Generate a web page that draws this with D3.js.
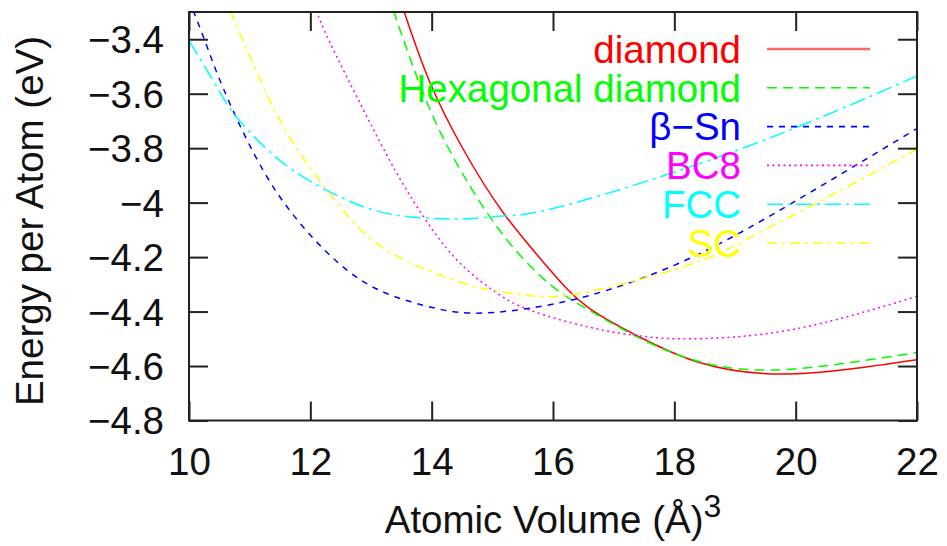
<!DOCTYPE html>
<html>
<head>
<meta charset="utf-8">
<script src="https://cdn.jsdelivr.net/npm/d3@7"></script>
<style>
body { margin: 0; background: #fff; }
text { font-family: "Liberation Sans", Arial, sans-serif; }
</style>
</head>
<body>
<div id="chart"></div>
<script>
// values: volume (A^3) / energy (eV)
var diamondV = [13.54, 13.97, 14.52, 15.18, 15.90, 16.555, 17.45, 18.44, 19.9, 22];
var diamondE = [-3.295, -3.558, -3.804, -4.037, -4.234, -4.381, -4.496, -4.589, -4.629, -4.577];

var hexV = [13.37, 13.97, 14.63, 15.29, 15.95, 16.555, 17.45, 18.44, 19.8, 22];
var hexE = [-3.295, -3.657, -3.939, -4.15, -4.30, -4.39, -4.50, -4.585, -4.613, -4.55];

var snV = [10.07, 10.26, 10.57, 11.09, 11.69, 12.46, 13.23, 14.05, 14.88, 16.41, 18.21, 19.96, 22];
var snE = [-3.295, -3.405, -3.583, -3.828, -4.037, -4.221, -4.331, -4.387, -4.405, -4.352, -4.209, -3.999, -3.728];

var bc8V = [12.10, 12.32, 12.87, 13.42, 13.97, 14.52, 15.07, 15.62, 16.61, 17.45, 18.27, 19.92, 22];
var bc8E = [-3.295, -3.411, -3.657, -3.89, -4.086, -4.234, -4.331, -4.395, -4.458, -4.49, -4.50, -4.467, -4.344];

var fccV = [10.0, 10.48, 10.81, 11.47, 12.24, 13.01, 13.78, 14.6, 15.18, 16.2, 19.08, 22];
var fccE = [-3.405, -3.583, -3.693, -3.84, -3.951, -4.025, -4.055, -4.059, -4.049, -4.01, -3.804, -3.535];

var scV = [10.68, 11.28, 11.75, 12.35, 13.01, 13.78, 14.6, 15.1, 15.73, 16.61, 18.2, 19.19, 20.51, 22];
var scE = [-3.295, -3.601, -3.792, -3.976, -4.135, -4.234, -4.301, -4.326, -4.344, -4.326, -4.232, -4.135, -3.982, -3.804];

var xTicks = [10, 12, 14, 16, 18, 20, 22];
var yTicks = [-4.8, -4.6, -4.4, -4.2, -4, -3.8, -3.6, -3.4];

var series = [
  {name: "diamond", v: diamondV, e: diamondE, color: "#ff0000", dash: null},
  {name: "Hexagonal diamond", v: hexV, e: hexE, color: "#00ff00", dash: "10,6"},
  {name: "\u03b2\u2212Sn", v: snV, e: snE, color: "#0000ff", dash: "6,6"},
  {name: "BC8", v: bc8V, e: bc8E, color: "#ff00ff", dash: "2,3.5"},
  {name: "FCC", v: fccV, e: fccE, color: "#00ffff", dash: "16,5,3,5"},
  {name: "SC", v: scV, e: scE, color: "#ffff00", dash: "10,5,3,5"}
];

var W = 947, H = 546;
var fs = "38.5px";
var margin = {top: 12, right: 30, bottom: 125.5, left: 189},
    width = W - margin.left - margin.right,
    height = H - margin.top - margin.bottom;

var svg = d3.select("#chart")
  .append("svg")
    .attr("width", W)
    .attr("height", H);

var g = svg.append("g")
    .attr("transform", "translate(" + margin.left + "," + margin.top + ")");

var x = d3.scaleLinear().domain([10, 22]).range([0, width]);
var y = d3.scaleLinear().domain([-4.8, -3.3]).range([height, 0]);

g.append("clipPath")
    .attr("id", "plotclip")
  .append("rect")
    .attr("width", width)
    .attr("height", height);

var line = d3.line()
    .x(function(d) { return x(d[0]); })
    .y(function(d) { return y(d[1]); })
    .curve(d3.curveNatural);

var curves = g.append("g").attr("clip-path", "url(#plotclip)");
series.forEach(function(s) {
  var pts = s.v.map(function(v, i) { return [v, s.e[i]]; });
  curves.append("path")
    .datum(pts)
    .attr("d", line)
    .attr("fill", "none")
    .attr("stroke", s.color)
    .attr("stroke-width", 1.5)
    .attr("stroke-dasharray", s.dash);
});

// axes with mirrored inward ticks
var tickLen = 19;
var axisColor = "#222";

var xAxis = g.append("g")
    .attr("transform", "translate(0," + height + ")")
    .call(d3.axisBottom(x).tickValues(xTicks).tickSizeInner(-tickLen).tickSizeOuter(0).tickPadding(0));
var yAxis = g.append("g")
    .call(d3.axisLeft(y).tickValues(yTicks).tickFormat(d3.format("")).tickSizeInner(-tickLen).tickSizeOuter(0).tickPadding(0));
g.append("g")
    .call(d3.axisTop(x).tickValues(xTicks).tickSizeInner(-tickLen).tickSizeOuter(0).tickFormat(""));
g.append("g")
    .attr("transform", "translate(" + width + ",0)")
    .call(d3.axisRight(y).tickValues(yTicks).tickSizeInner(-tickLen).tickSizeOuter(0).tickFormat(""));

g.selectAll(".domain").remove();
g.selectAll(".tick line").attr("stroke", axisColor).attr("stroke-width", 2);

xAxis.selectAll("text")
    .attr("y", 54)
    .attr("dy", 0)
    .attr("fill", "#111")
    .attr("font-size", fs);
yAxis.selectAll("text")
    .attr("x", -25)
    .attr("dy", "0.35em")
    .attr("fill", "#111")
    .attr("font-size", fs);

g.append("rect")
    .attr("width", width)
    .attr("height", height)
    .attr("fill", "none")
    .attr("stroke", axisColor)
    .attr("stroke-width", 2);

// axis titles
var xt = svg.append("text")
    .attr("x", margin.left + width / 2)
    .attr("y", 533)
    .attr("text-anchor", "middle")
    .attr("font-size", fs)
    .attr("fill", "#111");
xt.append("tspan").text("Atomic Volume (\u00c5)");
xt.append("tspan").attr("font-size", "32px").attr("dy", -16).text("3");

svg.append("text")
    .attr("transform", "translate(43," + 221 + ") rotate(-90)")
    .attr("text-anchor", "middle")
    .attr("font-size", fs)
    .attr("fill", "#111")
    .text("Energy per Atom (eV)");

// legend
var legend = g.selectAll(".legend")
    .data(series)
  .enter().append("g")
    .attr("class", "legend")
    .attr("transform", function(d, i) { return "translate(0," + (37 + i * 38.8) + ")"; });

legend.append("text")
    .attr("x", 741 - margin.left)
    .attr("dy", "0.36em")
    .attr("text-anchor", "end")
    .attr("font-size", fs)
    .attr("fill", function(d) { return d.color; })
    .text(function(d) { return d.name; });

legend.append("line")
    .attr("x1", 767 - margin.left)
    .attr("x2", 870 - margin.left)
    .attr("stroke", function(d) { return d.color; })
    .attr("stroke-width", function(d) { return d.dash ? 1.6 : 2.5; })
    .attr("stroke-opacity", function(d) { return d.dash ? 1 : 0.6; })
    .attr("stroke-dasharray", function(d) { return d.dash; });
</script>
</body>
</html>
